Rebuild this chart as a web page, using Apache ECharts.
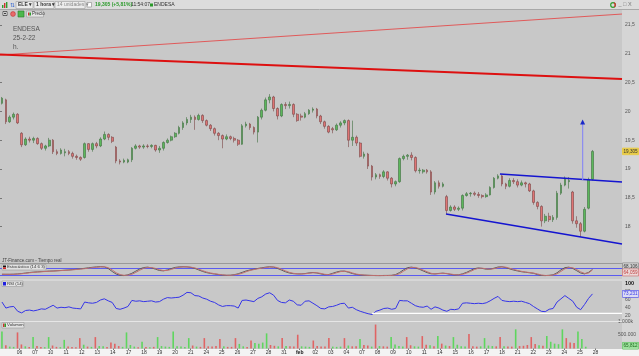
<!DOCTYPE html>
<html><head><meta charset="utf-8">
<script src="https://cdn.jsdelivr.net/npm/echarts@6/dist/echarts.min.js"></script>
<style>
html,body{margin:0;padding:0;}
#c{width:639px;height:356px;
background:
 linear-gradient(#dcdcdc,#dcdcdc) 0 0/639px 9.5px no-repeat,
 linear-gradient(#f3f3f3,#f3f3f3) 0 348.5px/639px 8px no-repeat,
 linear-gradient(#d5d5d5,#d5d5d5) 622px 0/17px 356px no-repeat,
 #c8c8c8;}
</style></head><body><div id="c"></div>
<script>
// ---- data ----
const dayLabels = ['06','07','10','11','12','13','14','17','18','19','20','21','24','25','26','27','28','31','feb',
 '02','03','04','07','08','09','10','11','14','15','16','17','18','21','22','23','24','25','28'];
// hourly-ish bars (4 per session): [open, close, low, high]
const candles = [
 [20.14,20.23,20.12,20.25],
 [20.2,19.82,19.78,20.22],[19.82,19.9,19.8,19.93],[19.9,19.95,19.86,19.98],[19.95,19.8,19.78,19.97],
 [19.62,19.42,19.38,19.64],[19.42,19.52,19.4,19.55],[19.52,19.5,19.46,19.56],[19.5,19.53,19.45,19.56],
 [19.53,19.44,19.42,19.55],[19.44,19.36,19.33,19.46],[19.36,19.4,19.32,19.42],[19.4,19.5,19.38,19.54],
 [19.5,19.3,19.26,19.52],[19.3,19.27,19.24,19.34],[19.27,19.33,19.25,19.36],[19.28,19.3,19.22,19.35],
 [19.3,19.27,19.24,19.33],[19.27,19.22,19.18,19.3],[19.22,19.2,19.16,19.25],[19.2,19.17,19.14,19.22],
 [19.2,19.44,19.18,19.46],[19.44,19.34,19.3,19.45],[19.34,19.44,19.3,19.46],[19.44,19.4,19.36,19.47],
 [19.4,19.52,19.38,19.55],[19.52,19.6,19.5,19.65],[19.6,19.55,19.5,19.62],[19.55,19.48,19.45,19.57],
 [19.38,19.14,19.1,19.4],[19.14,19.12,19.08,19.17],[19.12,19.15,19.1,19.18],[19.12,19.16,19.1,19.18],
 [19.16,19.36,19.12,19.38],[19.36,19.4,19.34,19.43],[19.4,19.38,19.35,19.42],[19.38,19.4,19.35,19.43],
 [19.4,19.39,19.36,19.43],[19.39,19.41,19.36,19.43],[19.41,19.33,19.3,19.42],[19.33,19.36,19.28,19.4],
 [19.36,19.46,19.32,19.48],[19.46,19.5,19.44,19.53],[19.5,19.56,19.48,19.58],[19.56,19.62,19.54,19.64],
 [19.62,19.72,19.6,19.75],[19.72,19.8,19.68,19.83],[19.8,19.86,19.76,19.9],[19.86,19.9,19.8,19.94],
 [19.9,19.86,19.68,19.93],[19.86,19.93,19.84,19.96],[19.93,19.84,19.8,19.95],[19.84,19.76,19.74,19.86],
 [19.76,19.7,19.66,19.78],[19.7,19.62,19.58,19.72],[19.62,19.58,19.5,19.64],[19.58,19.52,19.36,19.6],
 [19.52,19.56,19.5,19.6],[19.56,19.53,19.5,19.58],[19.53,19.5,19.46,19.56],[19.5,19.43,19.4,19.52],
 [19.43,19.75,19.42,19.78],[19.75,19.78,19.72,19.82],[19.78,19.72,19.68,19.8],[19.72,19.64,19.6,19.74],
 [19.64,19.9,19.46,19.92],[19.9,20.02,19.86,20.05],[20.02,20.2,20.0,20.24],[20.2,20.25,20.14,20.3],
 [20.25,20.05,20.0,20.27],[20.05,19.92,19.86,20.07],[19.92,20.12,19.9,20.14],[20.12,20.1,20.04,20.16],
 [20.1,20.12,20.05,20.17],[20.12,19.95,19.9,20.14],[19.95,19.84,19.82,19.97],[19.92,19.9,19.84,19.96],
 [19.9,19.96,19.88,19.99],[19.96,20.02,19.94,20.04],[20.02,20.04,19.98,20.07],[20.04,19.92,19.88,20.06],
 [19.92,19.82,19.78,19.94],[19.82,19.74,19.7,19.84],[19.74,19.64,19.62,19.76],[19.7,19.68,19.62,19.73],
 [19.68,19.76,19.66,19.79],[19.76,19.8,19.72,19.83],[19.8,19.84,19.76,19.86],[19.84,19.5,19.38,19.86],
 [19.5,19.55,19.4,19.84],[19.55,19.45,19.4,19.58],[19.45,19.22,19.2,19.47],[19.22,19.26,19.18,19.3],
 [19.26,19.05,19.0,19.28],[19.05,18.86,18.8,19.07],[18.86,18.9,18.82,18.93],[18.9,18.87,18.83,18.92],
 [18.87,18.95,18.84,18.98],[18.95,18.84,18.8,18.96],[18.84,18.74,18.68,18.86],[18.74,18.78,18.7,18.8],
 [18.78,19.18,18.76,19.2],[19.18,19.22,19.15,19.25],[19.22,19.24,19.16,19.26],[19.24,19.2,19.15,19.29],
 [19.2,18.97,18.94,19.22],[18.97,18.98,18.92,19.02],[18.95,18.98,18.92,19.0],[18.98,18.95,18.92,19.0],
 [18.95,18.6,18.55,18.98],[18.6,18.76,18.56,18.79],[18.76,18.7,18.66,18.8],[18.7,18.74,18.68,18.77],
 [18.52,18.28,18.22,18.55],[18.28,18.34,18.26,18.37],[18.34,18.3,18.27,18.37],[18.3,18.32,18.27,18.35],
 [18.32,18.54,18.28,18.56],[18.54,18.57,18.52,18.6],[18.57,18.58,18.52,18.6],[18.58,18.56,18.53,18.61],
 [18.56,18.54,18.5,18.6],[18.54,18.52,18.49,18.56],[18.52,18.55,18.5,18.58],[18.55,18.68,18.54,18.7],
 [18.68,18.84,18.66,18.86],[18.84,18.88,18.82,18.91],[18.88,18.74,18.7,18.9],[18.74,18.7,18.65,18.76],
 [18.7,18.8,18.68,18.84],[18.8,18.78,18.74,18.84],[18.78,18.72,18.68,18.82],[18.72,18.76,18.7,18.8],
 [18.76,18.74,18.68,18.78],[18.74,18.62,18.6,18.76],[18.62,18.42,18.38,18.64],[18.42,18.35,18.3,18.44],
 [18.35,18.1,18.0,18.37],[18.1,18.18,18.06,18.22],[18.18,18.12,18.08,18.24],[18.12,18.16,18.08,18.2],
 [18.16,18.58,18.12,18.62],[18.58,18.72,18.55,18.76],[18.72,18.84,18.7,18.87],[18.78,18.8,18.66,18.86],
 [18.6,18.1,18.05,18.62],[18.1,18.05,17.98,18.18],[18.05,17.92,17.82,18.08],[17.92,18.3,17.9,18.34],
 [18.32,18.82,18.3,18.85],[18.82,19.305,18.8,19.33]
];
const volumes = [634000,
 120000,70000,60000,596000, 150000,80000,60000,423000, 90000,60000,50000,423000, 110000,60000,50000,320000,
 70000,60000,50000,385000, 140000,70000,60000,423000, 90000,80000,60000,220000, 180000,90000,60000,596000,
 130000,70000,50000,250000, 60000,50000,60000,423000, 90000,70000,60000,634000, 80000,70000,60000,385000,
 110000,70000,60000,385000, 80000,70000,90000,350000, 80000,60000,60000,385000, 170000,80000,60000,296000,
 200000,180000,220000,560000, 130000,100000,80000,385000, 90000,80000,70000,510000, 80000,70000,60000,296000,
 90000,70000,70000,385000, 70000,60000,70000,385000, 110000,80000,80000,350000, 130000,110000,70000,887000,
 90000,80000,70000,423000, 150000,90000,70000,423000, 120000,80000,70000,460000, 140000,120000,80000,460000,
 180000,110000,90000,423000, 140000,80000,70000,535000, 80000,70000,80000,385000, 110000,90000,80000,423000,
 80000,70000,70000,710000, 90000,100000,130000,423000, 170000,120000,100000,460000, 250000,180000,160000,710000,
 385000,220000,200000,634000, 350000,65812];
const rsi = [53,38,41,42,30,26,32,33,31,33,36,35,40,45,38,40,39,41,38,37,36,53,51,50,52,58,61,56,52,37,35,38,42,
 57,55,56,54,55,56,53,54,60,64,63,64,65,70,77,76,69,68,63,60,55,52,46,42,44,44,43,38,57,58,56,54,62,66,73,76,
 70,57,52,51,58,55,46,45,55,56,50,44,37,36,41,42,45,49,50,38,40,34,30,27,24,22,30,33,37,38,35,37,57,56,56,50,
 44,41,40,43,35,41,38,33,30,35,34,36,50,51,50,49,50,49,51,56,62,67,57,55,54,55,54,55,52,49,42,36,30,29,35,37,
 53,61,69,62,55,40,34,47,62,73.231];
const stochK = [30,30,30,31,33,36,40,44,47,49,51,53,55,56,58,60,62,64,67,70,73,77,81,85,88,90,88,75,52,32,22,20,26,
 38,55,72,83,86,80,70,60,57,64,75,84,88,89,88,84,76,64,52,43,37,32,28,24,22,23,27,34,45,56,64,70,76,81,86,89,
 86,76,63,50,40,35,33,33,36,41,44,40,33,27,28,38,48,55,55,46,36,29,25,23,22,21,20,20,21,21,22,28,44,65,82,86,
 80,70,56,43,34,33,37,39,35,29,25,26,34,45,60,74,80,76,70,70,78,87,89,82,72,63,56,50,46,42,38,28,21,20,22,26,
 42,65,82,86,76,58,40,33,45,68.106];
const stochD = [31,30,30,30,32,34,38,42,45,48,50,52,54,55,57,59,61,63,65,68,71,74,78,82,85,88,89,82,64,42,28,22,23,
 30,45,62,77,84,83,76,66,59,60,68,79,85,88,88,86,80,70,58,48,40,35,30,26,23,22,25,30,38,50,60,67,73,78,83,87,
 88,82,70,57,45,38,34,33,34,38,42,42,37,30,27,32,42,51,55,51,41,32,27,24,22,21,21,20,20,21,21,25,35,54,73,84,
 84,75,63,50,38,33,35,38,37,32,27,25,30,39,52,67,77,78,73,70,74,82,88,86,77,68,60,53,48,44,40,33,25,21,21,24,
 34,53,73,84,81,67,49,37,40,64.059];
const priceTicks = [18,18.5,19,19.5,20,20.5,21,21.5];
const rsiTicks = [20,40,60,80,100];
const volTicks = [500000,1000000];
// drawn lines: [slot position, value]
const redThick = [[0,20.988],[158,20.563]];
const redThin = [[0,20.979],[158,21.69]];
const blueUpper = [[127,18.913],[158,18.774]];
const blueLower = [[113.3,18.219],[158,17.698]];
const targetArrow = [[148,18.81],[148,19.816]];
const rsiSupport = [[94.5,24.7],[158,24.7]];

// ---- build ----
const allDays = ['04','05'].concat(dayLabels, ['01']);
const NSLOT = 158;
const slots = [];
for (let i = 0; i < NSLOT; i++) slots.push(allDays[Math.floor((i + 3) / 4)] + ' #' + ((i + 3) % 4 + 1));
const dayPos = dayLabels.map((_, j) => 1 + 4 * (j + 1));
const comma = v => String(v).replace('.', ',');
const FONT = 'Liberation Sans';
const volData = volumes.map((v, i) => ({value: v, itemStyle: {color: candles[i][1] >= candles[i][0] ? '#5ed65e' : '#e06464'}}));

const gridMain = {left:0, top:10, width:622, height:253};
const grids = [gridMain,
  {left:0, top:264, width:622, height:15.5},
  {left:0, top:280.5, width:622, height:41},
  {left:0, top:321.5, width:622, height:27}];

const hiddenCat = g => ({type:'category', gridIndex:g, data:slots, boundaryGap:true, show:false});
const hiddenVal = g => ({type:'value', gridIndex:g, min:0, max:NSLOT, show:false});

const lineSeries = (data, color, width, xi, yi, extra) => Object.assign({
  type:'line', data, xAxisIndex:xi, yAxisIndex:yi, symbol:'none', silent:true,
  lineStyle:{color, width}, z:5
}, extra || {});

const option = {
  animation:false,
  backgroundColor:'transparent',
  grid: grids,
  xAxis: [hiddenCat(0), hiddenCat(1), hiddenCat(2), hiddenCat(3), hiddenVal(0), hiddenVal(2),
    {type:'value', gridIndex:3, min:0, max:NSLOT, position:'bottom',
     axisLine:{show:false}, splitLine:{show:false},
     axisTick:{show:true, customValues:dayPos, length:1.5, lineStyle:{color:'#777'}},
     axisLabel:{customValues:dayPos, margin:2, fontSize:5, color:'#333', fontFamily:FONT,
       formatter: v => { const s = dayLabels[(v - 1) / 4 - 1]; return s === 'feb' ? '{b|feb}' : s; },
       rich:{b:{fontWeight:'bold', fontSize:5, color:'#111', fontFamily:FONT}}}}],
  yAxis: [
    {type:'value', gridIndex:0, position:'right', min:17.368, max:21.76, splitLine:{show:false},
     axisLine:{show:false}, axisTick:{show:true, customValues:priceTicks, length:2, lineStyle:{color:'#777'}},
     axisLabel:{customValues:priceTicks, formatter:comma, fontSize:5, color:'#555', margin:3, fontFamily:FONT}},
    {type:'value', gridIndex:1, min:-10.7, max:110.7, show:false},
    {type:'value', gridIndex:2, position:'right', min:4.65, max:106.5, splitLine:{show:false},
     axisLine:{show:false}, axisTick:{show:false},
     axisLabel:{customValues:rsiTicks, fontSize:5, color:'#555', margin:3, fontFamily:FONT,
       formatter: v => v === 100 ? '{b|100}' : String(v), rich:{b:{fontWeight:'bold', fontSize:5.5, color:'#111'}}}},
    {type:'value', gridIndex:3, position:'right', min:0, max:1000000, splitLine:{show:false},
     axisLine:{show:false}, axisTick:{show:false},
     axisLabel:{customValues:volTicks, fontSize:5, color:'#555', margin:3, fontFamily:FONT,
       formatter: v => v === 1000000 ? '1.000k' : '500.000'}}
  ],
  series: [
    {type:'candlestick', xAxisIndex:0, yAxisIndex:0, data:candles, barWidth:2.2, silent:true, z:3,
     itemStyle:{color:'#5cb85c', color0:'#e07474', borderColor:'#3f6f3f', borderColor0:'#7a4444', borderWidth:0.6}},
    lineSeries(redThin, '#e05a5a', 1, 4, 0),
    lineSeries(redThick, '#dd1010', 2, 4, 0),
    lineSeries(blueUpper, '#1414d0', 1.6, 4, 0),
    lineSeries(blueLower, '#1414d0', 1.6, 4, 0),
    lineSeries([targetArrow[0], {value:targetArrow[1], symbol:'triangle', symbolSize:[5,5]}], '#8c8cf0', 1.2, 4, 0,
      {showSymbol:true, itemStyle:{color:'#1a28c8'}}),
    lineSeries(stochK, '#5a5a5a', 1, 1, 1,
      {markLine:{silent:true, symbol:'none', label:{show:false}, lineStyle:{color:'#5b5bf0', width:1, type:'solid'},
        data:[{yAxis:80},{yAxis:20}]}}),
    lineSeries(stochD, '#c07070', 1, 1, 1),
    lineSeries(rsi, '#3434e8', 1, 2, 2),
    lineSeries(rsiSupport, '#ffffff', 1.2, 5, 2),
    {type:'bar', xAxisIndex:3, yAxisIndex:3, data:volData, barWidth:1.6, silent:true}
  ]
};

const chart = echarts.init(document.getElementById('c'), null, {renderer:'canvas'});
chart.setOption(option);

const py = (axis, v) => chart.convertToPixel({yAxisIndex:axis}, v);
const txt = (x, y, text, o) => ({type:'text', x, y, z:100, silent:true,
  style:Object.assign({text, fontSize:5, fontFamily:FONT, fill:'#333', verticalAlign:'middle', align:'left'}, o || {})});
const rect = (x, y, w, h, fill, stroke) => ({type:'rect', z:99, silent:true, shape:{x, y, width:w, height:h},
  style:{fill, stroke: stroke || null, lineWidth: stroke ? 0.6 : 0}});
const hline = (y, x1, x2, c) => ({type:'line', z:98, silent:true, shape:{x1, y1:y, x2, y2:y}, style:{stroke:c, lineWidth:1}});
const box = (y, text, bg, fg, border) => txt(622.5, y, text, {backgroundColor:bg, fill:fg, borderColor:border || bg,
  borderWidth:0.5, padding:[1,1,0.5,1], fontSize:4.6});

const lastC = candles[candles.length - 1][1];
const graphics = [
  // toolbar
  hline(9.5, 0, 639, '#a8a8a8'),
  rect(2, 5, 1.4, 3, '#2e9e2e'), rect(4, 3, 1.4, 5, '#d03030'), rect(6, 2, 1.4, 6, '#2e9e2e'),
  txt(10, 5, '⇅', {fill:'#3a6ad0', fontSize:6}),
  rect(16, 1.5, 17, 7, '#ececec', '#9c9c9c'), txt(18, 5, 'ELE ▾', {fontWeight:'bold'}),
  rect(34, 1.5, 20, 7, '#ececec', '#9c9c9c'), txt(36, 5, '1 hora ▾', {fontWeight:'bold'}),
  rect(55, 1.5, 30, 7, '#ececec', '#9c9c9c'), txt(57, 5, '14 unidades ▾', {fill:'#888'}),
  rect(87, 2.5, 4.5, 4.5, '#ffffff', '#888'),
  txt(95, 5, '19,305 (+5,81%)', {fill:'#2a9a2a', fontWeight:'bold'}),
  txt(131, 5, '11:54:07', {fill:'#333'}),
  rect(150, 3.5, 3, 3, '#2a9a2a'),
  txt(154, 5, 'ENDESA', {fill:'#333'}),
  {type:'circle', z:100, silent:true, shape:{cx:613, cy:5, r:2.3}, style:{fill:'none', stroke:'#2fa02f', lineWidth:1.2}},
  {type:'arc', z:101, silent:true, shape:{cx:613, cy:5, r:2.3, startAngle:-1.2, endAngle:1.0}, style:{fill:'none', stroke:'#d83030', lineWidth:1.2}},
  txt(618.5, 4.5, '_ □ X', {fill:'#777', fontSize:5.5}),
  // second row buttons
  rect(3, 11.5, 4, 4, '#ffffff', '#111'), rect(4.2, 12.7, 1.6, 1.6, '#111'),
  {type:'circle', z:100, silent:true, shape:{cx:13, cy:14, r:2.4}, style:{fill:'#e86a6a', stroke:'#c03030', lineWidth:0.6}},
  rect(18, 11, 6, 6, '#4cb84c', '#2a7a2a'),
  rect(26.5, 11, 17, 6, '#e4e4e4', '#9a9a9a'), rect(28, 12.5, 1.5, 3, '#d03030'), rect(29.5, 12.5, 1.5, 3, '#2e9e2e'),
  txt(32, 14, 'Precio', {fontSize:4.5}),
  // title texts
  txt(13, 29.5, 'ENDESA', {fontSize:6.5, fill:'#555'}),
  txt(13, 38.5, '25-2-22', {fontSize:6.5, fill:'#555'}),
  txt(13, 47.5, 'h.', {fontSize:6.5, fill:'#555'}),
  txt(2, 260.5, 'JT-Finance.com - Tiempo real', {fontSize:4.5, fill:'#444'}),
  // panel separators
  hline(263.5, 0, 622, '#9a9a9a'), hline(280, 0, 622, '#e6e6e6'), hline(321.5, 0, 622, '#e6e6e6'),
  // panel legends
  rect(2, 264.5, 44, 5.5, '#e2e2e2', '#9a9a9a'), rect(3, 265.5, 3, 1.8, '#111'), rect(3, 267.3, 3, 1.8, '#d03030'),
  txt(7, 267.3, 'Estocástico (14 6 3)', {fontSize:4.3}),
  rect(2, 281, 21, 5.5, '#e2e2e2', '#9a9a9a'), rect(3, 282, 3, 3.5, '#2020e0'),
  txt(7, 283.8, 'RSI (14)', {fontSize:4.3}),
  rect(2, 322.5, 22, 5.5, '#e2e2e2', '#9a9a9a'), rect(3, 323.5, 1.5, 3.5, '#d03030'), rect(4.5, 323.5, 1.5, 3.5, '#2e9e2e'),
  txt(7, 325.3, 'Volumen', {fontSize:4.3}),
  // last value boxes
  box(py(0, lastC), comma(lastC), '#e8cb48', '#333'),
  box(py(1, stochK[stochK.length - 1]) - 3, comma(stochK[stochK.length - 1]), '#d0d0d0', '#333', '#666'),
  box(py(1, stochD[stochD.length - 1]) + 2.5, comma(stochD[stochD.length - 1]), '#ecd8d8', '#c04040', '#c04040'),
  box(py(2, rsi[rsi.length - 1]), comma(rsi[rsi.length - 1]), '#dcdcf4', '#3434e8', '#3434e8'),
  box(py(3, volumes[volumes.length - 1]) - 1, '65,812', '#9ee09e', '#1a6a1a', '#5ab85a')
];
chart.setOption({graphic: graphics});
</script></body></html>
